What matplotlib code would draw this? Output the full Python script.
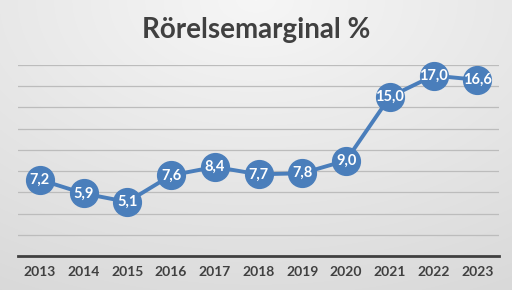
import numpy as np
import matplotlib.pyplot as plt

# Data
years = ["2013", "2014", "2015", "2016", "2017", "2018", "2019", "2020", "2021", "2022", "2023"]
marginal = [7.2, 5.9, 5.1, 7.6, 8.4, 7.7, 7.8, 9.0, 15.0, 17.0, 16.6]
title = "Rörelsemarginal %"

blue = "#4a7ebb"
textgrey = "#404040"

fig = plt.figure(figsize=(5.12, 2.90), dpi=100)

# Background gradient (light centre top, greyer towards bottom/edges)
bg = fig.add_axes([0, 0, 1, 1], zorder=0)
yy, xx = np.mgrid[0:1:290j, 0:1:512j]
r = np.sqrt(((xx - 0.5) * 1.1) ** 2 + (yy * 1.0) ** 2)
shade = 0.965 - 0.10 * np.clip(r, 0, 1.2)
bg.imshow(np.dstack([shade] * 3), aspect="auto", extent=[0, 1, 0, 1], origin="upper")
bg.axis("off")

ax = fig.add_axes([0.035, 0.117, 0.94, 0.659], zorder=1)
ax.patch.set_alpha(0)
x = np.arange(len(years))
ax.plot(x, marginal, color=blue, lw=2.8, marker="o", ms=20,
        markerfacecolor=blue, markeredgecolor=blue, zorder=3, clip_on=False)
for xi, v in zip(x, marginal):
    ax.text(xi, v, f"{v:.1f}".replace(".", ","), ha="center", va="center",
            color="white", fontsize=10.5, fontweight="bold", family="Lato", zorder=4)

ax.set_xlim(-0.5, len(years) - 0.5)
ax.set_ylim(0, 18)
ax.set_yticks(np.arange(0, 19, 2))
ax.yaxis.grid(True, color="#bcbcbc", lw=0.9)
ax.set_axisbelow(True)
ax.tick_params(axis="y", left=False, labelleft=False)
ax.tick_params(axis="x", length=0, pad=7)
ax.set_xticks(x)
ax.set_xticklabels(years, fontsize=10, fontweight="bold", color=textgrey, family="Lato")
for s in ["top", "left", "right"]:
    ax.spines[s].set_visible(False)
ax.spines["bottom"].set_color(textgrey)
ax.spines["bottom"].set_linewidth(2)

fig.text(0.5, 0.895, title, ha="center", va="center", fontsize=20,
         fontweight="bold", color=textgrey, family="Lato")

fig.savefig("out.png", dpi=100)
